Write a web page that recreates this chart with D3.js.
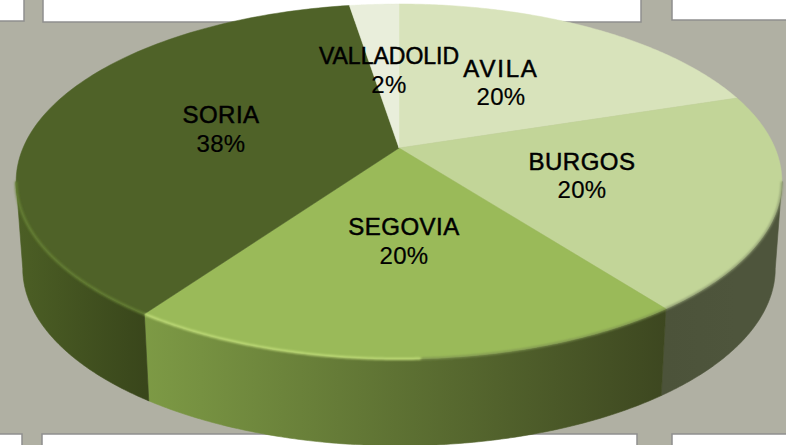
<!DOCTYPE html>
<html><head><meta charset="utf-8">
<script src="https://cdn.jsdelivr.net/npm/d3@7/dist/d3.min.js"></script>
<style>html,body{margin:0;padding:0;background:#b0b0a3;overflow:hidden}svg{display:block}</style>
</head><body><svg id="c" width="786" height="445"></svg>
<script>
const categories = ["AVILA","BURGOS","SEGOVIA","SORIA","VALLADOLID"];
const shares = [20.0,19.7,20.0,37.8,2.5];
const percentLabels = ["20%","20%","20%","38%","2%"];
const topColors = ["#d8e3bb","#c2d598","#9aba59","#4f6228","#e9eedb"];
const wallStops = [
  ["#dfe6c8","#dfe6c8"],["#4c533a","#4e553c"],["#7d9a45","#3d4720"],["#4c5f25","#39461b"],["#e0e6cc","#e0e6cc"]
];
const labelPos = [[501,69,97],[582,162,190],[404,227,256],[221,115,144],[389,56,85]];
const labelSpacing = [1.8,0.5,0.5,0.5,0];

const svg = d3.select("#c"), defs = svg.append("defs");
const persp = 0.1887;
const face = (ox, oy, ax, by) => t => {
  const u = Math.sin(t), v = Math.cos(t), w = 1 + persp * v;
  return [ox + ax * u / w, oy - by * v / w];
};
const topF = face(399,148,376,171.2), botF = face(399,235,369.5,171);
const pieGen = d3.pie().value(d => d).sort(null);
const arcs = pieGen(shares);
const sample = (a,b,f) => d3.range(0,121).map(i => f(a + (b-a)*i/120));
const line = d3.line();

const boxes = [[-5,-5,29,26],[43,-5,598,27],[672,-5,120,25],[-5,434,27,20],[42,434,595,20],[672,434,120,20]];
svg.selectAll("rect.box").data(boxes).join("rect").attr("class","box")
  .attr("x",d=>d[0]).attr("y",d=>d[1]).attr("width",d=>d[2]).attr("height",d=>d[3])
  .attr("fill","#fff").attr("stroke","#8f8f8f").attr("stroke-width",1.5);

[["soft",1.3],["soft2",0.8]].forEach(([id,s]) =>
  defs.append("filter").attr("id",id).attr("x","-10%").attr("y","-10%").attr("width","120%").attr("height","120%")
    .append("feGaussianBlur").attr("stdDeviation",s));
arcs.forEach((d,i) => {
  const g = defs.append("linearGradient").attr("id","w"+i).attr("gradientUnits","userSpaceOnUse");
  const xs = [topF(d.startAngle)[0], topF(d.endAngle)[0]];
  g.attr("x1",i===3?xs[0]:d3.min(xs)).attr("x2",i===3?16:d3.max(xs)).attr("y1",0).attr("y2",0);
  g.append("stop").attr("offset",0).attr("stop-color",i===3?wallStops[i][1]:wallStops[i][0]);
  g.append("stop").attr("offset",1).attr("stop-color",i===3?wallStops[i][0]:wallStops[i][1]);
});

// visible rim runs between the two silhouette points of the projected disk
const tangent = Math.asin(persp);
const frontA = Math.PI/2 + tangent, frontB = 1.5*Math.PI - tangent;
const walls = svg.append("g");
arcs.forEach((d,i) => {
  const a = Math.max(d.startAngle, frontA), b = Math.min(d.endAngle, frontB);
  if (b <= a) return;
  const pts = sample(a,b,topF).concat(sample(b,a,botF));
  walls.append("path").attr("d", line(pts)+"Z").attr("fill","url(#w"+i+")").attr("stroke","url(#w"+i+")").attr("stroke-width",0.6);
});

const tops = svg.append("g");
arcs.forEach((d,i) => {
  const pts = [[399,148]].concat(sample(d.startAngle,d.endAngle,topF));
  tops.append("path").attr("d", line(pts)+"Z").attr("fill",topColors[i]).attr("stroke",topColors[i]).attr("stroke-width",0.5);
});

const rim = svg.append("g").attr("fill","none").attr("stroke-linecap","butt");
rim.append("path").attr("d",line(sample(frontA,arcs[1].endAngle,topF)))
  .attr("stroke","#8d9a70").attr("stroke-width",2).attr("filter","url(#soft2)");
rim.append("path").attr("d",line(sample(arcs[2].startAngle,arcs[2].startAngle+0.6,topF)))
  .attr("stroke","#7f9450").attr("stroke-width",2).attr("filter","url(#soft2)");
rim.append("path").attr("d",line(sample(arcs[2].startAngle+0.6,arcs[2].endAngle,topF)))
  .attr("stroke","#c6e27e").attr("stroke-width",2).attr("filter","url(#soft2)");
rim.append("path").attr("d",line(sample(arcs[3].startAngle,frontB,topF)))
  .attr("stroke","#668134").attr("stroke-width",2.4).attr("filter","url(#soft)");

const lab = svg.append("g").attr("font-family","Liberation Sans, Arial, sans-serif").attr("fill","#000").attr("text-anchor","middle");
categories.forEach((c,i) => {
  const p = labelPos[i];
  lab.append("text").attr("x",p[0]).attr("y",p[1]+8).attr("font-size",i===4?23:24).attr("letter-spacing",labelSpacing[i])
    .attr("stroke","#000").attr("stroke-width",0.5).text(c);
  lab.append("text").attr("x",p[0]).attr("y",p[2]+8).attr("font-size",24).attr("letter-spacing",0.3).attr("stroke","#000").attr("stroke-width",0.2).text(percentLabels[i]);
});
</script></body></html>
